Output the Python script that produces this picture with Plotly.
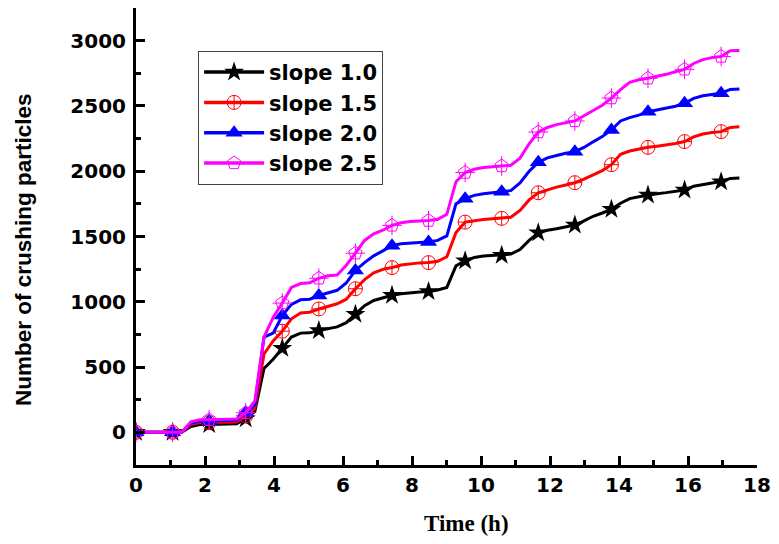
import plotly.graph_objects as go

# Sampling times (h)
time_h = [0, 0.265, 0.53, 0.795, 1.06, 1.325, 1.59, 1.855, 2.12, 2.385, 2.65, 2.915,
          3.18, 3.445, 3.71, 3.975, 4.24, 4.505, 4.77, 5.035, 5.30, 5.565, 5.83, 6.095,
          6.36, 6.625, 6.89, 7.155, 7.42, 7.685, 7.95, 8.215, 8.48, 8.745, 9.01, 9.275,
          9.54, 9.805, 10.07, 10.335, 10.6, 10.865, 11.13, 11.395, 11.66, 11.925, 12.19,
          12.455, 12.72, 12.985, 13.25, 13.515, 13.78, 14.045, 14.31, 14.575, 14.84,
          15.105, 15.37, 15.635, 15.9, 16.165, 16.43, 16.695, 16.96, 17.225, 17.49]

slope_10 = [0, 0, 0, 0, 0, 0, 45, 60, 60, 60, 62, 65,
            105, 160, 490, 560, 645, 730, 760, 762, 780, 795, 808, 840,
            905, 970, 1010, 1030, 1050, 1062, 1070, 1075, 1078, 1090, 1110, 1275,
            1314, 1340, 1350, 1355, 1357, 1365, 1400, 1470, 1528, 1548, 1560,
            1572, 1588, 1620, 1655, 1680, 1708, 1755, 1790, 1805, 1818,
            1828, 1836, 1845, 1856, 1885, 1900, 1910, 1920, 1945, 1948]

slope_15 = [0, 0, 0, 0, 0, 0, 60, 75, 75, 75, 77, 80,
            125, 185, 600, 700, 775, 870, 915, 920, 945, 965, 985, 1020,
            1100, 1170, 1222, 1248, 1262, 1282, 1292, 1298, 1300, 1310, 1345, 1530,
            1610, 1622, 1630, 1635, 1639, 1648, 1700, 1780, 1835, 1858, 1878,
            1895, 1912, 1940, 1975, 2005, 2050, 2130, 2155, 2170, 2183,
            2192, 2200, 2212, 2227, 2263, 2285, 2297, 2303, 2335, 2340]

slope_20 = [0, 0, 0, 0, 0, 0, 70, 87, 87, 88, 90, 92,
            150, 210, 730, 760, 895, 980, 1015, 1020, 1048, 1070, 1088, 1145,
            1240, 1300, 1352, 1390, 1430, 1445, 1452, 1455, 1458, 1470, 1505, 1750,
            1790, 1815, 1828, 1836, 1843, 1852, 1910, 2000, 2068, 2102, 2120,
            2138, 2150, 2182, 2225, 2265, 2316, 2385, 2410, 2430, 2456,
            2470, 2480, 2498, 2520, 2558, 2578, 2590, 2597, 2626, 2630]

slope_25 = [0, 0, 0, 0, 0, 0, 80, 97, 97, 98, 100, 102,
            150, 240, 730, 880, 990, 1110, 1140, 1145, 1180, 1200, 1205, 1280,
            1372, 1470, 1520, 1548, 1585, 1605, 1615, 1618, 1622, 1632, 1670, 1920,
            1990, 2015, 2028, 2035, 2040, 2046, 2100, 2210, 2300, 2335, 2357,
            2372, 2385, 2425, 2462, 2505, 2560, 2625, 2680, 2700, 2712,
            2725, 2742, 2762, 2780, 2825, 2855, 2870, 2878, 2922, 2925]

x_ticks = [0, 2, 4, 6, 8, 10, 12, 14, 16, 18]
y_ticks = [0, 500, 1000, 1500, 2000, 2500, 3000]

series_names = ["slope 1.0", "slope 1.5", "slope 2.0", "slope 2.5"]
series_values = [slope_10, slope_15, slope_20, slope_25]
colors = ["#000000", "#ff0000", "#0000ff", "#ff00ff"]
symbols = [["star"], ["circle-cross-open"], ["triangle-up"], ["pentagon-open", "cross-thin-open"]]
marker_sizes = [15, 14, 15, 14]
MARK_EVERY = 4

fig = go.Figure()

for name, vals, col, syms, msz in zip(series_names, series_values, colors, symbols, marker_sizes):
    fig.add_trace(go.Scatter(x=time_h, y=vals, mode="lines",
                             line=dict(color=col, width=3), showlegend=False,
                             hoverinfo="skip"))
    for sym in syms:
        filled = not sym.endswith("open")
        fig.add_trace(go.Scatter(
            x=time_h[::MARK_EVERY], y=vals[::MARK_EVERY], mode="markers",
            marker=dict(symbol=sym, size=msz, color=col,
                        line=dict(color=col, width=1 if not filled else 0)),
            showlegend=False))
    # legend entry
    fig.add_trace(go.Scatter(
        x=[None], y=[None], mode="lines+markers", name=name,
        line=dict(color=col, width=3.5),
        marker=dict(symbol=syms[0], size=msz, color=col,
                    line=dict(color=col, width=1 if syms[0].endswith("open") else 0))))

tick_font = dict(family="DejaVu Sans", size=20, color="black", weight="bold")

fig.update_layout(
    width=779, height=544,
    margin=dict(l=136, r=13, t=8, b=79),
    paper_bgcolor="white", plot_bgcolor="white",
    legend=dict(x=0.1, y=0.906, xanchor="left", yanchor="top",
                bgcolor="white", bordercolor="#444444", borderwidth=1,
                font=dict(family="DejaVu Sans", size=21, color="black", weight="bold"),
                itemwidth=60, tracegroupgap=0),
    xaxis=dict(range=[0, 18], tickmode="array", tickvals=x_ticks,
               showgrid=False, zeroline=False, showline=True, linecolor="black",
               linewidth=3, ticks="inside", ticklen=9, tickwidth=2.5, tickcolor="black",
               tickfont=tick_font, ticklabeloverflow="allow",
               minor=dict(dtick=1, ticks="inside", ticklen=5, tickwidth=2.5,
                          tickcolor="black", showgrid=False)),
    yaxis=dict(range=[-250, 3250], tickmode="array", tickvals=y_ticks,
               showgrid=False, zeroline=False, showline=True, linecolor="black",
               linewidth=3, ticks="inside", ticklen=9, tickwidth=2.5, tickcolor="black",
               tickfont=tick_font, ticklabelstandoff=3,
               minor=dict(dtick=250, tick0=-250, ticks="inside", ticklen=5,
                          tickwidth=2.5, tickcolor="black", showgrid=False)),
    annotations=[
        dict(text="Time (h)", xref="paper", yref="paper",
             x=0.532, y=-0.127, xanchor="center", yanchor="middle",
             showarrow=False,
             font=dict(family="Liberation Serif", size=23, color="black", weight="bold")),
        dict(text="Number of crushing particles", xref="paper", yref="paper",
             x=-0.18, y=0.471, xanchor="center", yanchor="middle", textangle=-90,
             showarrow=False,
             font=dict(family="Liberation Sans", size=22.5, color="black", weight="bold")),
    ],
)

fig.write_html("out.html")
